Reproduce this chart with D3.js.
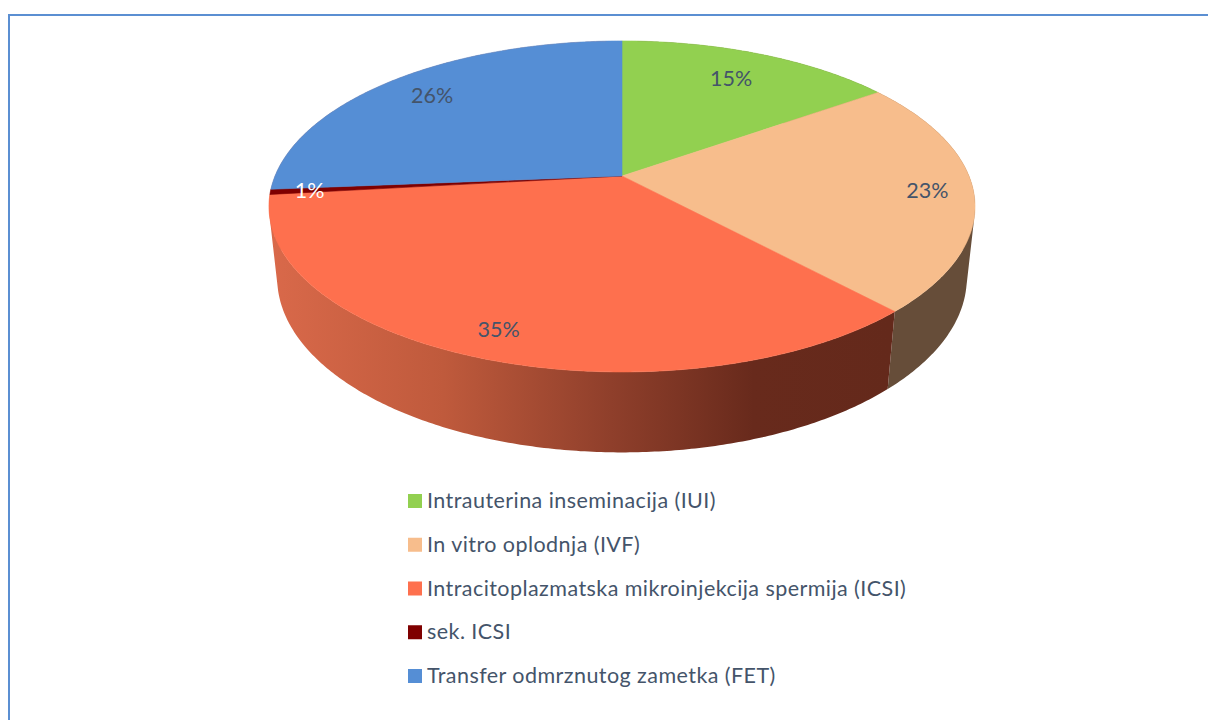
<!DOCTYPE html>
<html>
<head>
<meta charset="utf-8">
<title>Pie</title>
<script src="https://cdn.jsdelivr.net/npm/d3@7"></script>
<style>
  html, body { margin: 0; padding: 0; background: #fff; overflow: hidden; }
  svg { display: block; }
  text { font-family: Lato, "Open Sans", sans-serif; fill: #44546a; }
</style>
</head>
<body>
<script>
// values (labels round them)
var categories = ["Intrauterina inseminacija (IUI)", "In vitro oplodnja (IVF)",
    "Intracitoplazmatska mikroinjekcija spermija (ICSI)", "sek. ICSI", "Transfer odmrznutog zametka (FET)"];
var values = [15.2, 22.9, 35.1, 0.5, 26.3];
var colors = ["#92d050", "#f7bd8c", "#fe704e", "#7f0000", "#558ed5"];
var labelColors = ["#44546a", "#44546a", "#44546a", "#ffffff", "#44546a"];

const w = 1208, h = 720;

// perspective of the tilted disc
const view = {cx: 622, cy: 176, sx: 347, sy: 159.9, tilt: -0.184, depthY: 72, depthZ: 0.023};

// how far out along the slice each label sits
const labelRadius = [0.77, 0.87, 0.87, 0.89, 0.82];

// r = 1 is the rim, z = 0 top face, z = 1 bottom face
function project(angle, r, z) {
    var u = r * Math.sin(angle), v = -r * Math.cos(angle);
    var d = 1 + view.tilt * v + view.depthZ * z;
    return [view.cx + view.sx * u / d, view.cy + (view.sy * v + view.depthY * z) / d];
}

var svg = d3.select("body").append("svg")
    .attr("width", w)
    .attr("height", h);

var pie = d3.pie().sort(null).value(d => d);
var slices = pie(values);
var line = d3.line();

function rim(s, z) {
    var n = Math.max(2, Math.ceil((s.endAngle - s.startAngle) / 0.01));
    return d3.range(n + 1).map(i => project(s.startAngle + (s.endAngle - s.startAngle) * i / n, 1, z));
}

// wall as a strip of small quads, all wound the same way so that
// overlapping ones near the silhouette do not cancel out
function wallPath(s) {
    var top = rim(s, 0), bottom = rim(s, 1);
    return d3.range(top.length - 1).map(i => {
        var quad = [top[i], top[i + 1], bottom[i + 1], bottom[i]];
        if (d3.polygonArea(quad) < 0) quad.reverse();
        return line(quad) + "Z";
    }).join("");
}

// chart frame, runs off the right and bottom of the picture
svg.append("path")
    .attr("d", line([[9, h], [9, 15], [w, 15]]))
    .attr("fill", "none")
    .attr("stroke", "#5b8fd2")
    .attr("stroke-width", 2);

// shading of the walls
var defs = svg.append("defs");
var wallRed = defs.append("linearGradient")
    .attr("id", "wall-red")
    .attr("gradientUnits", "userSpaceOnUse")
    .attr("x1", 270).attr("x2", 890).attr("y1", 0).attr("y2", 0);
[[0, "#d9694a"], [0.28, "#bf5a3c"], [0.55, "#8f3f2b"], [0.78, "#682a1c"], [1, "#64291b"]].forEach(d => {
    wallRed.append("stop").attr("offset", d[0]).attr("stop-color", d[1]);
});

// sliver and blue walls sit behind the red one, same tint so no dark fringe on its edge
var wallFill = ["#664d39", "#664d39", "url(#wall-red)", "#d9694a", "#d9694a"];

// walls back to front, so the red one ends up over its neighbours
var walls = slices.map((d, i) => ({slice: d, fill: wallFill[i]}))
    .sort((a, b) => d3.descending(
        Math.cos((a.slice.startAngle + a.slice.endAngle) / 2),
        Math.cos((b.slice.startAngle + b.slice.endAngle) / 2)));

svg.append("g").selectAll("path")
    .data(walls)
    .join("path")
    .attr("d", d => wallPath(d.slice))
    .attr("fill", d => d.fill);

// top face
svg.append("g").selectAll("path")
    .data(slices)
    .join("path")
    .attr("d", d => line([project(0, 0, 0)].concat(rim(d, 0))) + "Z")
    .attr("fill", (d, i) => colors[i])
    .attr("stroke", (d, i) => colors[i])
    .attr("stroke-width", 0.6);

// percent labels
svg.append("g").selectAll("text")
    .data(slices)
    .join("text")
    .attr("transform", (d, i) => {
        var p = project((d.startAngle + d.endAngle) / 2, labelRadius[i], 0);
        return "translate(" + p[0] + "," + p[1] + ")";
    })
    .attr("text-anchor", "middle")
    .attr("dy", "0.35em")
    .attr("font-size", 21.5)
    .style("fill", (d, i) => labelColors[i])
    .text(d => Math.round(d.value) + "%");

// legend
var legendY = d3.scalePoint().domain(categories).range([501, 676]);

var legend = svg.append("g").selectAll("g")
    .data(categories)
    .join("g")
    .attr("transform", d => "translate(408," + legendY(d) + ")");

legend.append("rect")
    .attr("y", -7)
    .attr("width", 14)
    .attr("height", 14)
    .attr("fill", (d, i) => colors[i]);

legend.append("text")
    .attr("x", 19)
    .attr("y", 7)
    .attr("font-size", 21.5)
    .attr("letter-spacing", 0.44)
    .text(d => d);
</script>
</body>
</html>
